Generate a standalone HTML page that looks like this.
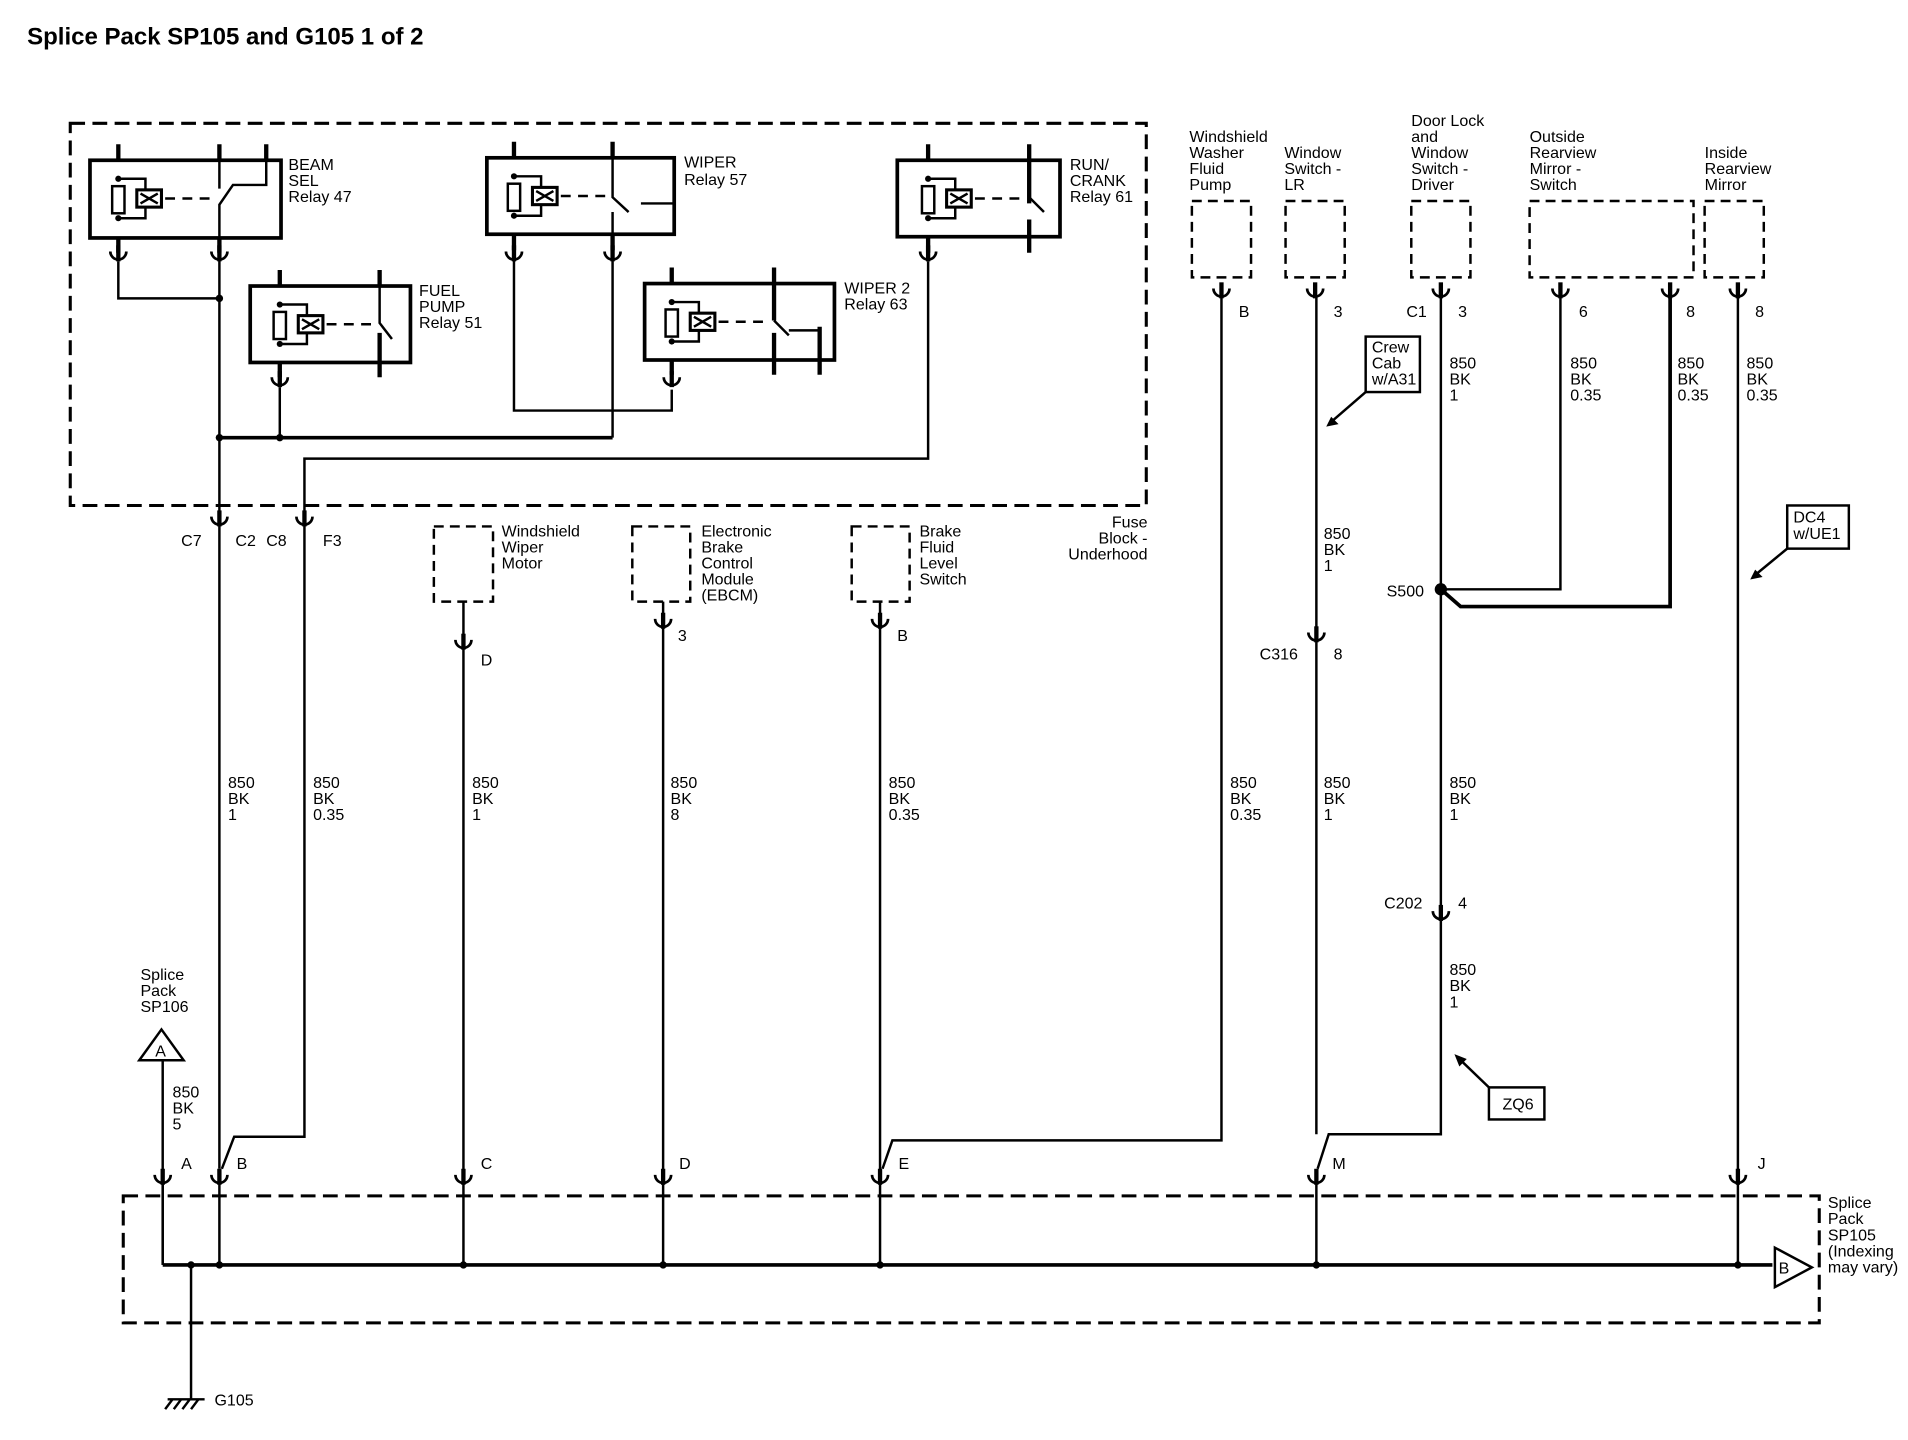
<!DOCTYPE html>
<html><head><meta charset="utf-8"><style>
html,body{margin:0;padding:0;background:#fff;}
svg{display:block;}
text{font-family:"Liberation Sans",Arial,sans-serif;font-size:13px;fill:#000;}
.t{font-size:19.5px;font-weight:bold;}
</style></head><body>
<svg width="1908" height="1440" viewBox="0 0 1548 1168" preserveAspectRatio="none" xmlns="http://www.w3.org/2000/svg">
<defs>
<g id="cd"><path d="M0,-8V5" stroke="#000" stroke-width="3.5"/><path d="M-6.5,-3A6.5,6.5 0 0 0 6.5,-3" fill="none" stroke="#000" stroke-width="2.2"/></g>
<g id="coil">
<path d="M0,15H22V47H0" fill="none" stroke="#000" stroke-width="2"/>
<circle cx="0" cy="15" r="2.5"/><circle cx="0" cy="47" r="2.5"/>
<rect x="-5" y="21" width="10" height="22" fill="#fff" stroke="#000" stroke-width="2"/>
<rect x="15" y="24" width="20" height="14" fill="#fff" stroke="#000" stroke-width="2.5"/>
<path d="M18,27L32,35M18,35L32,27" stroke="#000" stroke-width="2"/>
<path d="M38,31H75" stroke="#000" stroke-width="2" stroke-dasharray="8,6"/>
</g>
</defs>
<rect width="1548" height="1168" fill="#fff"/>
<text x="22" y="36" class="t">Splice Pack SP105 and G105 1 of 2</text>
<g fill="none" stroke="#000" stroke-width="2.5" stroke-dasharray="12,6">
<rect x="57" y="100" width="873" height="310"/>
<rect x="100" y="970" width="1376" height="103"/>
<rect x="967" y="163" width="48" height="62" stroke-width="2" stroke-dasharray="8,5"/>
<rect x="1043" y="163" width="48" height="62" stroke-width="2" stroke-dasharray="8,5"/>
<rect x="1145" y="163" width="48" height="62" stroke-width="2" stroke-dasharray="8,5"/>
<rect x="1241" y="163" width="133" height="62" stroke-width="2" stroke-dasharray="8,5"/>
<rect x="1383" y="163" width="48" height="62" stroke-width="2" stroke-dasharray="8,5"/>
<rect x="352" y="427" width="48" height="61" stroke-width="2" stroke-dasharray="8,5"/>
<rect x="513" y="427" width="47" height="61" stroke-width="2" stroke-dasharray="8,5"/>
<rect x="691" y="427" width="47" height="61" stroke-width="2" stroke-dasharray="8,5"/>
</g>
<g fill="none" stroke="#000" stroke-width="3">
<rect x="73" y="130" width="155" height="63"/>
<rect x="203" y="232" width="130" height="62"/>
<rect x="395" y="128" width="152" height="62"/>
<rect x="523" y="230" width="154" height="62"/>
<rect x="728" y="130" width="132" height="62"/>
</g>
<use href="#coil" x="96" y="130"/>
<use href="#coil" x="227" y="232"/>
<use href="#coil" x="417" y="128"/>
<use href="#coil" x="545" y="230"/>
<use href="#coil" x="753" y="130"/>
<g fill="none" stroke="#000" stroke-width="3.5">
<path d="M96,117V130M96,193V205M178,117V130M178,193V205M216,117V130"/>
<path d="M227,219V232M227,294V306M308,219V232M308,270V306"/>
<path d="M417,115V128M417,190V203M497,115V128M497,190V203"/>
<path d="M545,217V230M545,292V304M628,217V260M628,270V304M665,265V304"/>
<path d="M753,117V130M753,192V205M835,117V165M835,178V205"/>
</g>
<g fill="none" stroke="#000" stroke-width="2">
<path d="M178,130V153M178,193V166L189,150H216V130"/>
<path d="M308,232V262L318,275"/>
<path d="M497,128V160L510,172"/>
<path d="M497,190V172M547,165H520"/>
<path d="M628,260L640,272M640,268H665"/>
<path d="M835,130V160L847,172"/>
</g>
<g fill="none" stroke="#000" stroke-width="2">
<path d="M96,212V242H178"/>
<path d="M227,314V355"/>
<path d="M417,205V333H545V316"/>
<path d="M753,212V372H247V420"/>
<path d="M178,205V420"/>
<path d="M497,205V355"/>
</g>
<path d="M178,355H497" stroke="#000" stroke-width="3"/>
<circle cx="178" cy="242" r="3"/><circle cx="178" cy="355" r="3"/><circle cx="227" cy="355" r="3"/>
<use href="#cd" x="96" y="207"/><use href="#cd" x="178" y="207"/>
<use href="#cd" x="227" y="309"/><use href="#cd" x="545" y="309"/>
<use href="#cd" x="417" y="207"/><use href="#cd" x="497" y="207"/>
<use href="#cd" x="753" y="207"/>
<use href="#cd" x="178" y="422"/><use href="#cd" x="247" y="422"/>
<text x="234" y="138">BEAM</text><text x="234" y="151">SEL</text><text x="234" y="164">Relay 47</text>
<text x="340" y="240">FUEL</text><text x="340" y="253">PUMP</text><text x="340" y="266">Relay 51</text>
<text x="555" y="136">WIPER</text><text x="555" y="150">Relay 57</text>
<text x="685" y="238">WIPER 2</text><text x="685" y="251">Relay 63</text>
<text x="868" y="138">RUN/</text><text x="868" y="151">CRANK</text><text x="868" y="164">Relay 61</text>
<text x="147" y="443">C7</text><text x="191" y="443">C2</text><text x="216" y="443">C8</text><text x="262" y="443">F3</text>
<text x="931" y="428" text-anchor="end">Fuse</text><text x="931" y="441" text-anchor="end">Block -</text><text x="931" y="454" text-anchor="end">Underhood</text>
<g fill="none" stroke="#000" stroke-width="2">
<path d="M178,425V948"/>
<path d="M247,425V922H190L180,948"/>
<path d="M376,525V1026M538,508V1026M714,508V1026"/>
<path d="M991,240V925H724L716,948"/>
<path d="M1068,240V510M1068,520V920M1169,240V738M1169,746V920H1078L1069,948"/>
<path d="M1266,240V478H1169M1410,240V1026M132,860V1026M155,1026V1135"/>
<path d="M132,950V1026M178,950V1026M1068,950V1026"/>
</g>
<path d="M1355,240V492H1185L1169,478" fill="none" stroke="#000" stroke-width="3"/>
<path d="M132,1026H1438" stroke="#000" stroke-width="3"/>
<path d="M376,488V515M538,488V498M714,488V498" stroke="#000" stroke-width="2"/>
<circle cx="1169" cy="478" r="5"/>
<g fill="#000"><circle cx="155" cy="1026" r="3"/><circle cx="178" cy="1026" r="3"/><circle cx="376" cy="1026" r="3"/><circle cx="538" cy="1026" r="3"/><circle cx="714" cy="1026" r="3"/><circle cx="1068" cy="1026" r="3"/><circle cx="1410" cy="1026" r="3"/></g>
<use href="#cd" x="376" y="522"/><use href="#cd" x="538" y="505"/><use href="#cd" x="714" y="505"/>
<use href="#cd" x="991" y="237"/><use href="#cd" x="1067" y="237"/><use href="#cd" x="1169" y="237"/>
<use href="#cd" x="1266" y="237"/><use href="#cd" x="1355" y="237"/><use href="#cd" x="1410" y="237"/>
<use href="#cd" x="1068" y="516"/><use href="#cd" x="1169" y="742"/>
<use href="#cd" x="132" y="956"/><use href="#cd" x="178" y="956"/><use href="#cd" x="376" y="956"/><use href="#cd" x="538" y="956"/><use href="#cd" x="714" y="956"/><use href="#cd" x="1068" y="956"/><use href="#cd" x="1410" y="956"/>
<path d="M113,860L131,835L149,860Z" fill="#fff" stroke="#000" stroke-width="2"/><text x="126" y="857">A</text>
<path d="M1440,1012L1470,1028L1440,1044Z" fill="#fff" stroke="#000" stroke-width="2"/><text x="1443" y="1033">B</text>
<path d="M136,1135H166M140,1135L134,1143M147,1135L141,1143M154,1135L148,1143M161,1135L155,1143" stroke="#000" stroke-width="2"/>
<text x="174" y="1140">G105</text>
<g fill="none" stroke="#000" stroke-width="2">
<rect x="1108" y="273" width="44" height="45"/><rect x="1208" y="882" width="45" height="26"/><rect x="1450" y="410" width="50" height="35"/>
<path d="M1108,318L1078,344M1208,882L1182,857M1450,445L1422,468"/>
</g>
<path d="M1076,346l10,-2l-6,-6zM1180,855l4,10l6,-6zM1420,470l10,-2l-6,-6z"/>
<text x="1113" y="286">Crew</text><text x="1113" y="299">Cab</text><text x="1113" y="312">w/A31</text>
<text x="1219" y="900">ZQ6</text>
<text x="1455" y="424">DC4</text><text x="1455" y="437">w/UE1</text>
<text x="407" y="435">Windshield</text><text x="407" y="448">Wiper</text><text x="407" y="461">Motor</text>
<text x="569" y="435">Electronic</text><text x="569" y="448">Brake</text><text x="569" y="461">Control</text><text x="569" y="474">Module</text><text x="569" y="487">(EBCM)</text>
<text x="746" y="435">Brake</text><text x="746" y="448">Fluid</text><text x="746" y="461">Level</text><text x="746" y="474">Switch</text>
<text x="390" y="540">D</text><text x="550" y="520">3</text><text x="728" y="520">B</text>
<text x="965" y="115">Windshield</text><text x="965" y="128">Washer</text><text x="965" y="141">Fluid</text><text x="965" y="154">Pump</text>
<text x="1042" y="128">Window</text><text x="1042" y="141">Switch -</text><text x="1042" y="154">LR</text>
<text x="1145" y="102">Door Lock</text><text x="1145" y="115">and</text><text x="1145" y="128">Window</text><text x="1145" y="141">Switch -</text><text x="1145" y="154">Driver</text>
<text x="1241" y="115">Outside</text><text x="1241" y="128">Rearview</text><text x="1241" y="141">Mirror -</text><text x="1241" y="154">Switch</text>
<text x="1383" y="128">Inside</text><text x="1383" y="141">Rearview</text><text x="1383" y="154">Mirror</text>
<text x="1005" y="257">B</text><text x="1082" y="257">3</text><text x="1141" y="257">C1</text><text x="1183" y="257">3</text><text x="1281" y="257">6</text><text x="1368" y="257">8</text><text x="1424" y="257">8</text>
<text x="1176" y="299">850</text><text x="1176" y="312">BK</text><text x="1176" y="325">1</text>
<text x="1274" y="299">850</text><text x="1274" y="312">BK</text><text x="1274" y="325">0.35</text>
<text x="1361" y="299">850</text><text x="1361" y="312">BK</text><text x="1361" y="325">0.35</text>
<text x="1417" y="299">850</text><text x="1417" y="312">BK</text><text x="1417" y="325">0.35</text>
<text x="1074" y="437">850</text><text x="1074" y="450">BK</text><text x="1074" y="463">1</text>
<text x="1125" y="484">S500</text>
<text x="1022" y="535">C316</text><text x="1082" y="535">8</text>
<text x="185" y="639">850</text><text x="185" y="652">BK</text><text x="185" y="665">1</text>
<text x="254" y="639">850</text><text x="254" y="652">BK</text><text x="254" y="665">0.35</text>
<text x="383" y="639">850</text><text x="383" y="652">BK</text><text x="383" y="665">1</text>
<text x="544" y="639">850</text><text x="544" y="652">BK</text><text x="544" y="665">8</text>
<text x="721" y="639">850</text><text x="721" y="652">BK</text><text x="721" y="665">0.35</text>
<text x="998" y="639">850</text><text x="998" y="652">BK</text><text x="998" y="665">0.35</text>
<text x="1074" y="639">850</text><text x="1074" y="652">BK</text><text x="1074" y="665">1</text>
<text x="1176" y="639">850</text><text x="1176" y="652">BK</text><text x="1176" y="665">1</text>
<text x="1123" y="737">C202</text><text x="1183" y="737">4</text>
<text x="1176" y="791">850</text><text x="1176" y="804">BK</text><text x="1176" y="817">1</text>
<text x="114" y="795">Splice</text><text x="114" y="808">Pack</text><text x="114" y="821">SP106</text>
<text x="140" y="890">850</text><text x="140" y="903">BK</text><text x="140" y="916">5</text>
<text x="147" y="948">A</text><text x="192" y="948">B</text><text x="390" y="948">C</text><text x="551" y="948">D</text><text x="729" y="948">E</text><text x="1081" y="948">M</text><text x="1426" y="948">J</text>
<text x="1483" y="980">Splice</text><text x="1483" y="993">Pack</text><text x="1483" y="1006">SP105</text><text x="1483" y="1019">(Indexing</text><text x="1483" y="1032">may vary)</text>
</svg>
</body></html>
